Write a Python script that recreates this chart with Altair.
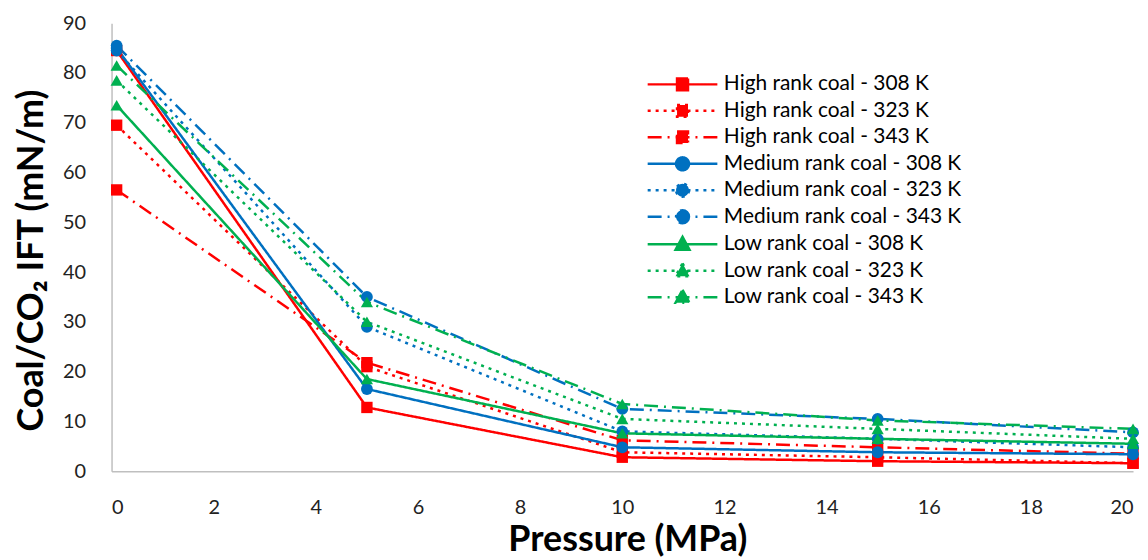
import altair as alt
import pandas as pd

pressure = [0.1, 5, 10, 15, 20]

series_names = [
    "High rank coal - 308 K",
    "High rank coal - 323 K",
    "High rank coal - 343 K",
    "Medium rank coal - 308 K",
    "Medium rank coal - 323 K",
    "Medium rank coal - 343 K",
    "Low rank coal - 308 K",
    "Low rank coal - 323 K",
    "Low rank coal - 343 K",
]
ranks = ["High"] * 3 + ["Medium"] * 3 + ["Low"] * 3

high_308 = [84.5, 12.8, 2.8, 2.0, 1.6]
high_323 = [69.5, 21.0, 3.8, 2.8, 1.6]
high_343 = [56.5, 21.8, 6.2, 4.8, 3.5]
med_308 = [85.0, 16.5, 4.8, 3.8, 3.4]
med_323 = [84.5, 29.0, 8.0, 6.5, 4.8]
med_343 = [85.5, 35.0, 12.5, 10.5, 7.8]
low_308 = [73.5, 18.5, 7.6, 6.5, 5.5]
low_323 = [78.5, 30.0, 10.5, 8.5, 6.5]
low_343 = [81.5, 34.0, 13.5, 10.2, 8.5]

values = [high_308, high_323, high_343, med_308, med_323, med_343, low_308, low_323, low_343]

rows = []
for name, rank, vals in zip(series_names, ranks, values):
    for p, v in zip(pressure, vals):
        rows.append({"series": name, "rank": rank, "pressure": p, "ift": v})
df = pd.DataFrame(rows)

RED, BLUE, GREEN = "#FF0000", "#0070C0", "#00B050"
colors = [RED] * 3 + [BLUE] * 3 + [GREEN] * 3
dashes = [[1, 0], [3, 5], [14, 6, 2, 6]] * 3

# legend glyphs: line segment + marker (units scaled by sqrt(size)/2 = 10px)
sq = "M-1,0H6M1.95,-0.58H3.05V0.58H1.95Z"
ci = "M-1,0H6M3.15,0A0.65,0.65 0 1 1 1.85,0A0.65,0.65 0 1 1 3.15,0Z"
tr = "M-1,0H6M2.5,-0.75L3.2,0.55H1.8Z"
legend_shapes = [sq] * 3 + [ci] * 3 + [tr] * 3

FONT = "Lato"

x_enc = alt.X(
    "pressure:Q",
    scale=alt.Scale(domain=[0, 20], nice=False),
    axis=alt.Axis(
        title="Pressure (MPa)",
        values=list(range(0, 21, 2)),
        grid=False,
        ticks=False,
        tickSize=0,
        labelPadding=27,
        labelFontSize=20,
        labelFont=FONT,
        labelColor="#222222",
        titleFont=FONT,
        titleFontSize=36,
        titleFontWeight="bold",
        titleColor="#000000",
        titlePadding=5,
        titleX=518,
        domainColor="#BFBFBF",
        domainWidth=1.5,
    ),
)
y_enc = alt.Y(
    "ift:Q",
    scale=alt.Scale(domain=[0, 90], nice=False),
    axis=alt.Axis(
        title="Coal/CO\u2082 IFT (mN/m)",
        values=list(range(0, 91, 10)),
        grid=False,
        ticks=False,
        tickSize=0,
        labelPadding=26,
        labelFontSize=20,
        labelFont=FONT,
        labelColor="#222222",
        titleFont=FONT,
        titleFontSize=36,
        titleFontWeight="bold",
        titleColor="#000000",
        titlePadding=12,
        titleY=238,
        domainColor="#BFBFBF",
        domainWidth=1.5,
    ),
)

color_scale = alt.Scale(domain=series_names, range=colors)
dash_scale = alt.Scale(domain=series_names, range=dashes)
base = alt.Chart(df)

lines = base.mark_line(strokeWidth=2.5).encode(
    x=x_enc,
    y=y_enc,
    color=alt.Color("series:N", scale=color_scale, title=None),
    strokeDash=alt.StrokeDash("series:N", scale=dash_scale, title=None),
)


def pts(rank, shape, size):
    return base.transform_filter(alt.datum.rank == rank).mark_point(
        filled=True, opacity=1, size=size, shape=shape
    ).encode(
        x="pressure:Q",
        y="ift:Q",
        color=alt.Color("series:N", scale=color_scale, title=None),
    )


legend_layer = base.transform_filter("false").mark_point(
    filled=True, opacity=1, size=400, strokeWidth=2.5
).encode(
    x="pressure:Q",
    y="ift:Q",
    color=alt.Color("series:N", scale=color_scale, title=None),
    stroke=alt.Stroke("series:N", scale=alt.Scale(domain=series_names, range=colors), title=None),
    shape=alt.Shape("series:N", scale=alt.Scale(domain=series_names, range=legend_shapes), title=None),
    strokeDash=alt.StrokeDash("series:N", scale=dash_scale, title=None),
)

chart = (
    alt.layer(
        lines,
        pts("High", "square", 130),
        pts("Medium", "circle", 140),
        pts("Low", "triangle-up", 150),
        legend_layer,
    )
    .properties(width=1026, height=450, padding={"left": 5, "top": 4, "right": 0, "bottom": 0})
    .configure_view(stroke=None)
    .configure_legend(
        orient="none",
        legendX=537,
        legendY=50,
        padding=0,
        labelFont=FONT,
        labelFontSize=21,
        labelColor="#000000",
        labelLimit=400,
        symbolSize=400,
        symbolStrokeWidth=2.5,
        rowPadding=3.6,
        labelOffset=55,
    )
)

chart.save("out.html", embed_options={"renderer": "svg", "actions": False})
